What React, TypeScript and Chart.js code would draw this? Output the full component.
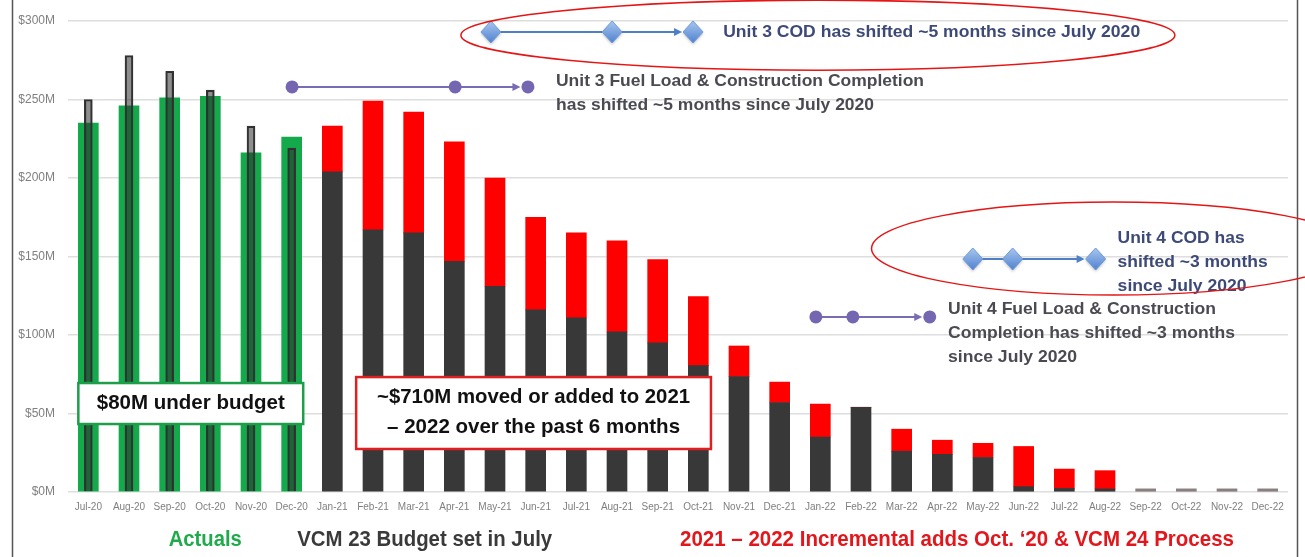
import React, { useEffect, useRef } from 'react';
import { Chart, registerables } from 'chart.js';

Chart.register(...registerables);

// ---------- data ----------
const months = [
  'Jul-20', 'Aug-20', 'Sep-20', 'Oct-20', 'Nov-20', 'Dec-20',
  'Jan-21', 'Feb-21', 'Mar-21', 'Apr-21', 'May-21', 'Jun-21',
  'Jul-21', 'Aug-21', 'Sep-21', 'Oct-21', 'Nov-21', 'Dec-21',
  'Jan-22', 'Feb-22', 'Mar-22', 'Apr-22', 'May-22', 'Jun-22',
  'Jul-22', 'Aug-22', 'Sep-22', 'Oct-22', 'Nov-22', 'Dec-22',
];

// Actual spend ($M), Jul-20 .. Dec-20
const actuals = [235, 246, 251, 252, 216, 226,
  null, null, null, null, null, null, null, null, null, null, null, null,
  null, null, null, null, null, null, null, null, null, null, null, null];

// Budget for the actuals months ($M)
const budget2020 = [250, 278, 268, 256, 233, 219,
  null, null, null, null, null, null, null, null, null, null, null, null,
  null, null, null, null, null, null, null, null, null, null, null, null];

// VCM 23 budget set in July ($M)
const vcm23Budget = [null, null, null, null, null, null,
  204, 167, 165, 147, 131, 116, 111, 102, 95, 80.5, 73.5, 57,
  35, 54, 26, 24, 22, 3.4, 2.3, 2, null, null, null, null];

// 2021-2022 incremental adds ($M)
const incremental = [null, null, null, null, null, null,
  29, 82, 77, 76, 69, 59, 54, 58, 53, 44, 19.5, 13,
  21, 0, 14, 9, 9, 25.6, 12.3, 11.6, null, null, null, null];

// Residual late-2022 amounts ($M)
const residual = [null, null, null, null, null, null,
  null, null, null, null, null, null, null, null, null, null, null, null,
  null, null, null, null, null, null, null, null, 2, 2, 2, 2];

const yTicks = [0, 50, 100, 150, 200, 250, 300];

// Milestone shifts (category position of old -> new dates)
const unit3Cod = [9.9, 12.88, 14.87];
const unit3Fuel = [5.01, 9.02, 10.81];
const unit4Cod = [21.75, 22.73, 24.77];
const unit4Fuel = [17.89, 18.8, 20.69];

const FONT = "'Liberation Sans', Arial, sans-serif";
const NARROW = "'Liberation Sans Narrow', 'Arial Narrow', 'Liberation Sans', Arial, sans-serif";

function fitText(ctx: CanvasRenderingContext2D, text: string, x: number, y: number, width: number, align: 'left' | 'center') {
  const w = ctx.measureText(text).width;
  const s = width / w;
  ctx.save();
  const left = align === 'center' ? x - width / 2 : x;
  ctx.translate(left, y);
  ctx.scale(s, 1);
  ctx.textAlign = 'left';
  ctx.textBaseline = 'middle';
  ctx.fillText(text, 0, 0);
  ctx.restore();
}

const annotationPlugin = {
  id: 'slideAnnotations',
  afterDatasetsDraw(chart: any) {
    const ctx: CanvasRenderingContext2D = chart.ctx;
    const xs = chart.scales.x;
    const ys = chart.scales.y;
    const X = (v: number) => xs.getPixelForValue(v);
    const Y = (v: number) => ys.getPixelForValue(v);
    ctx.save();

    // slide frame lines
    ctx.strokeStyle = '#555';
    ctx.lineWidth = 1.5;
    ctx.beginPath();
    ctx.moveTo(12.5, 0); ctx.lineTo(12.5, chart.height);
    ctx.moveTo(1297.5, 0); ctx.lineTo(1297.5, chart.height);
    ctx.stroke();

    // boxes
    const box = (x0: number, x1: number, y0: number, y1: number, color: string, lines: { t: string; y: number; w: number }[]) => {
      const l = X(x0), r = X(x1), t = Y(y0), b = Y(y1);
      ctx.fillStyle = '#fff';
      ctx.fillRect(l, t, r - l, b - t);
      ctx.strokeStyle = color;
      ctx.lineWidth = 2.5;
      ctx.strokeRect(l, t, r - l, b - t);
      ctx.fillStyle = '#111';
      ctx.font = `bold 21px ${FONT}`;
      lines.forEach((ln) => fitText(ctx, ln.t, (l + r) / 2, Y(ln.y), ln.w, 'center'));
    };
    box(-0.246, 5.284, 69.4, 43.3, '#1e9e48', [{ t: '$80M under budget', y: 56.3, w: 188 }]);
    box(6.586, 15.31, 73.2, 27.4, '#e02020', [
      { t: '~$710M moved or added to 2021', y: 60.5, w: 313 },
      { t: '– 2022 over the past 6 months', y: 41.4, w: 293 },
    ]);

    // milestone arrows
    const arrowLine = (pts: number[], yv: number, color: string, r: number) => {
      const py = Y(yv);
      const x0 = X(pts[0]);
      const xe = X(pts[pts.length - 1]) - r - 1;
      ctx.strokeStyle = color;
      ctx.fillStyle = color;
      ctx.lineWidth = 2;
      ctx.beginPath();
      ctx.moveTo(x0, py); ctx.lineTo(xe - 4, py);
      ctx.stroke();
      ctx.beginPath();
      ctx.moveTo(xe, py);
      ctx.lineTo(xe - 8, py - 4);
      ctx.lineTo(xe - 8, py + 4);
      ctx.closePath();
      ctx.fill();
    };
    const diamonds = (pts: number[], yv: number) => {
      arrowLine(pts, yv, '#4f7fc4', 10);
      const py = Y(yv);
      pts.forEach((p) => {
        const px = X(p);
        const g = ctx.createLinearGradient(px, py - 11, px, py + 11);
        g.addColorStop(0, '#a9c6f0');
        g.addColorStop(1, '#4f82cf');
        ctx.save();
        ctx.shadowColor = 'rgba(0,0,0,0.25)';
        ctx.shadowBlur = 3;
        ctx.shadowOffsetY = 1.5;
        ctx.beginPath();
        ctx.moveTo(px, py - 11);
        ctx.lineTo(px + 10, py);
        ctx.lineTo(px, py + 11);
        ctx.lineTo(px - 10, py);
        ctx.closePath();
        ctx.fillStyle = g;
        ctx.fill();
        ctx.restore();
        ctx.strokeStyle = '#6f9ad8';
        ctx.lineWidth = 1;
        ctx.stroke();
      });
    };
    const circles = (pts: number[], yv: number) => {
      arrowLine(pts, yv, '#7a6cb4', 6.5);
      const py = Y(yv);
      pts.forEach((p) => {
        ctx.beginPath();
        ctx.arc(X(p), py, 6.5, 0, Math.PI * 2);
        ctx.fillStyle = '#7466b0';
        ctx.fill();
      });
    };
    diamonds(unit3Cod, 293);
    circles(unit3Fuel, 258);
    diamonds(unit4Cod, 148.4);
    circles(unit4Fuel, 111.5);

    // milestone texts
    ctx.font = `bold 17px ${FONT}`;
    ctx.fillStyle = '#3d4a78';
    fitText(ctx, 'Unit 3 COD has shifted ~5 months since July 2020', X(15.61), Y(293), 417, 'left');
    fitText(ctx, 'Unit 4 COD has', X(25.31), Y(161.8), 127, 'left');
    fitText(ctx, 'shifted ~3 months', X(25.31), Y(146.5), 150, 'left');
    fitText(ctx, 'since July 2020', X(25.31), Y(131.2), 129, 'left');
    ctx.fillStyle = '#4a4a52';
    fitText(ctx, 'Unit 3 Fuel Load & Construction Completion', X(11.5), Y(261.8), 368, 'left');
    fitText(ctx, 'has shifted ~5 months since July 2020', X(11.5), Y(246.5), 318, 'left');
    fitText(ctx, 'Unit 4 Fuel Load & Construction', X(21.14), Y(116.6), 268, 'left');
    fitText(ctx, 'Completion has shifted ~3 months', X(21.14), Y(101.3), 287, 'left');
    fitText(ctx, 'since July 2020', X(21.14), Y(86), 129, 'left');

    // red ellipses
    ctx.strokeStyle = '#e51515';
    ctx.lineWidth = 1.5;
    const ell = (cx: number, cy: number, rxPx: number, ryPx: number) => {
      ctx.beginPath();
      ctx.ellipse(X(cx), Y(cy), rxPx, ryPx, 0, 0, Math.PI * 2);
      ctx.stroke();
    };
    ell(17.94, 291, 357, 35);
    ell(25.21, 155.1, 242, 46.5);

    // section labels under the axis
    ctx.font = `bold 22px ${FONT}`;
    ctx.fillStyle = '#1faa4c';
    fitText(ctx, 'Actuals', X(2.875), Y(-30.6), 73, 'center');
    ctx.fillStyle = '#3a3a3a';
    fitText(ctx, 'VCM 23 Budget set in July', X(8.27), Y(-30.6), 255, 'center');
    ctx.fillStyle = '#e3161b';
    fitText(ctx, '2021 – 2022 Incremental adds Oct. ‘20 & VCM 24 Process', X(21.36), Y(-30.6), 554, 'center');

    ctx.restore();
  },
};

export default function App() {
  const ref = useRef<HTMLCanvasElement | null>(null);
  useEffect(() => {
    document.body.style.margin = '0';
    const canvas = ref.current;
    if (!canvas) return;
    const chart = new Chart(canvas, {
      type: 'bar',
      data: {
        labels: months,
        datasets: [
          {
            label: 'Budget',
            data: budget2020,
            stack: 'budget',
            backgroundColor: 'rgba(38,38,38,0.52)',
            borderColor: '#333',
            borderWidth: 1.5,
            categoryPercentage: 1,
            barPercentage: 1,
            maxBarThickness: 8,
            grouped: false,
          } as any,
          {
            label: 'Actuals',
            data: actuals,
            stack: 'actual',
            backgroundColor: '#14a94b',
            categoryPercentage: 1,
            barPercentage: 1,
            maxBarThickness: 20,
            grouped: false,
          },
          {
            label: 'VCM 23 Budget',
            data: vcm23Budget,
            stack: 'plan',
            backgroundColor: '#383838',
            categoryPercentage: 1,
            barPercentage: 1,
            maxBarThickness: 20,
            grouped: false,
          },
          {
            label: 'Incremental',
            data: incremental,
            stack: 'plan',
            backgroundColor: '#ff0000',
            categoryPercentage: 1,
            barPercentage: 1,
            maxBarThickness: 20,
            grouped: false,
          },
          {
            label: 'Residual',
            data: residual,
            stack: 'plan',
            backgroundColor: '#8a7e7e',
            categoryPercentage: 1,
            barPercentage: 1,
            maxBarThickness: 20,
            grouped: false,
          },
        ],
      },
      options: {
        responsive: false,
        animation: false,
        layout: { padding: { top: 21, right: 17, bottom: 0, left: 0 } },
        plugins: { legend: { display: false }, tooltip: { enabled: false } },
        scales: {
          x: {
            stacked: false,
            grid: { display: false, drawTicks: false },
            border: { display: false },
            ticks: {
              autoSkip: false,
              maxRotation: 0,
              padding: 9,
              color: '#7f7f7f',
              font: { family: NARROW, size: 10 },
            },
            afterFit: (s: any) => { s.height = 65; },
          },
          y: {
            stacked: true,
            min: 0,
            max: 300,
            afterBuildTicks: (s: any) => { s.ticks = yTicks.map((v) => ({ value: v })); },
            grid: { color: '#dedede', lineWidth: 1.5, drawTicks: false },
            border: { display: false },
            ticks: {
              padding: 13,
              color: '#7f7f7f',
              font: { family: NARROW, size: 12 },
              callback: (v: any) => `$${v}M`,
            },
            afterFit: (s: any) => { s.width = 68; },
          },
        },
      },
      plugins: [annotationPlugin],
    });
    return () => chart.destroy();
  }, []);
  return (
    <div style={{ width: 1305, height: 557, background: '#fff' }}>
      <canvas ref={ref} width={1305} height={557} style={{ display: 'block' }} />
    </div>
  );
}
